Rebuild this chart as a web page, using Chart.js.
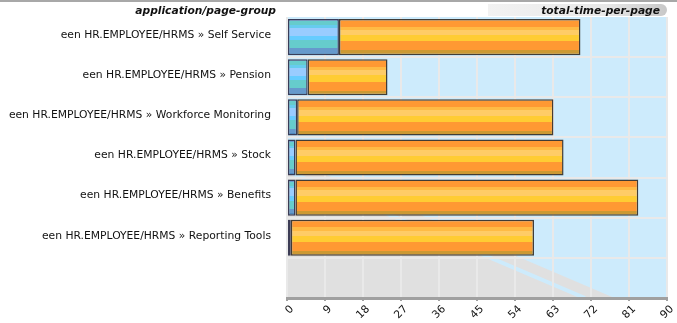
<!DOCTYPE html>
<html>
<head>
<meta charset="utf-8">
<script src="https://cdn.jsdelivr.net/npm/chart.js@4/dist/chart.umd.min.js"></script>
<style>
  html, body { margin: 0; padding: 0; background: #ffffff; }
  #wrap { position: relative; width: 677px; height: 323px; }
</style>
</head>
<body>
<div id="wrap"><canvas id="c" width="677" height="323"></canvas></div>
<script>
// ---- data ----
const categories = [
  'een HR.EMPLOYEE/HRMS » Self Service',
  'een HR.EMPLOYEE/HRMS » Pension',
  'een HR.EMPLOYEE/HRMS » Workforce Monitoring',
  'een HR.EMPLOYEE/HRMS » Stock',
  'een HR.EMPLOYEE/HRMS » Benefits',
  'een HR.EMPLOYEE/HRMS » Reporting Tools',
  ''
];
const blueValues   = [12.3, 4.9, 2.4, 2.0, 2.0, 0.9, null];
const orangeValues = [57.2, 18.9, 60.7, 63.5, 81.2, 57.6, null];
const xTicks = [0, 9, 18, 27, 36, 45, 54, 63, 72, 81, 90];
const yTitle = 'application/page-group';
const xTitle = 'total-time-per-page';

// ---- styles ----
const FONT = 'DejaVu Sans';
const BAR_PCT = 0.9;
const blueStops = [
  [0.00, '#6699cc'], [0.06, '#66cccc'], [0.17, '#66ccee'], [0.24, '#99ccff'],
  [0.46, '#66ccff'], [0.58, '#66cccc'], [0.81, '#6699cc'], [0.93, '#4d88bb']
];
const orangeStops = [
  [0.00, '#ff9933'], [0.21, '#ffbb44'], [0.30, '#ffcc66'], [0.45, '#ffcc33'],
  [0.62, '#ff9933'], [0.87, '#cc9933']
];

function stripeFill(stops) {
  return function (ctx) {
    const chart = ctx.chart;
    const ys = chart.scales && chart.scales.y;
    if (!ys || ctx.type !== 'data') return stops[0][1];
    const center = ys.getPixelForValue(ctx.dataIndex);
    const catH = ys.height / categories.length;
    const h = catH * BAR_PCT;
    if (!isFinite(center) || !isFinite(h) || h <= 0) return stops[0][1];
    const top = center - h / 2, bot = center + h / 2;
    const g = chart.ctx.createLinearGradient(0, top, 0, bot);
    for (let i = 0; i < stops.length; i++) {
      const start = stops[i][0];
      const end = i + 1 < stops.length ? stops[i + 1][0] : 1;
      g.addColorStop(start, stops[i][1]);
      g.addColorStop(Math.max(start, end - 0.0001), stops[i][1]);
    }
    return g;
  };
}

const backgroundPlugin = {
  id: 'bgPlot',
  beforeDraw(chart) {
    const { ctx, chartArea: a } = chart;
    const w = a.right - a.left, h = a.bottom - a.top;
    ctx.save();
    ctx.fillStyle = '#cdebfc';
    ctx.fillRect(a.left, a.top, w, h);
    ctx.beginPath();
    ctx.rect(a.left, a.top, w, h);
    ctx.clip();
    ctx.fillStyle = '#e0e0e0';
    ctx.beginPath();
    ctx.moveTo(a.left, a.top + h * 0.502);
    ctx.lineTo(a.left + w * 0.862, a.bottom);
    ctx.lineTo(a.left, a.bottom);
    ctx.closePath();
    ctx.fill();
    ctx.strokeStyle = '#cdebfc';
    ctx.lineWidth = 4;
    ctx.beginPath();
    ctx.moveTo(a.left - 10, a.top + h * 0.548 - 4.3);
    ctx.lineTo(a.left + w * 0.784, a.bottom);
    ctx.stroke();
    ctx.restore();
  }
};

const headerPlugin = {
  id: 'headers',
  afterDraw(chart) {
    const { ctx, chartArea: a, width } = chart;
    ctx.save();
    // top border line
    ctx.fillStyle = '#a8a8a8';
    ctx.fillRect(0, 0, width, 2);
    // pill behind x title
    const px0 = 488, px1 = a.right, py0 = 4, py1 = 16;
    const g = ctx.createLinearGradient(px0, 0, px1, 0);
    g.addColorStop(0, '#f2f2f2');
    g.addColorStop(0.65, '#e8e8e8');
    g.addColorStop(1, '#c8c8c8');
    ctx.fillStyle = g;
    const r = (py1 - py0) / 2;
    ctx.beginPath();
    ctx.moveTo(px0, py0);
    ctx.lineTo(px1 - r, py0);
    ctx.arc(px1 - r, py0 + r, r, -Math.PI / 2, Math.PI / 2);
    ctx.lineTo(px0, py1);
    ctx.closePath();
    ctx.fill();
    ctx.fillStyle = '#111';
    ctx.font = 'italic bold 10.7px "' + FONT + '"';
    ctx.textBaseline = 'middle';
    ctx.textAlign = 'right';
    ctx.fillText(xTitle, px1 - 7, 11.5);
    ctx.fillText(yTitle, a.left - 11, 11.5);
    ctx.restore();
  }
};

new Chart(document.getElementById('c'), {
  type: 'bar',
  data: {
    labels: categories,
    datasets: [
      {
        label: 'blue',
        data: blueValues,
        backgroundColor: stripeFill(blueStops),
        borderColor: 'rgba(30,30,60,0.85)',
        borderWidth: 1.5,
        borderSkipped: false,
        barPercentage: BAR_PCT,
        categoryPercentage: 1
      },
      {
        label: 'orange',
        data: orangeValues,
        backgroundColor: stripeFill(orangeStops),
        borderColor: 'rgba(40,30,20,0.85)',
        borderWidth: 1.5,
        borderSkipped: false,
        barPercentage: BAR_PCT,
        categoryPercentage: 1
      }
    ]
  },
  options: {
    indexAxis: 'y',
    responsive: false,
    animation: false,
    devicePixelRatio: 1,
    layout: { padding: { top: 17, right: 10, left: 0, bottom: 0 } },
    plugins: {
      legend: { display: false },
      tooltip: { enabled: false },
      title: { display: false }
    },
    scales: {
      x: {
        type: 'linear',
        stacked: true,
        min: xTicks[0],
        max: xTicks[xTicks.length - 1],
        afterBuildTicks(scale) { scale.ticks = xTicks.map(v => ({ value: v })); },
        afterFit(scale) { scale.height = 25; scale.paddingLeft = 0; scale.paddingRight = 0; },
        ticks: {
          minRotation: 45,
          maxRotation: 45,
          autoSkip: false,
          labelOffset: 5,
          padding: 2,
          color: '#111',
          font: { family: FONT, size: 10.7 }
        },
        grid: {
          color: '#e9e9e9',
          lineWidth: 2,
          tickLength: 3,
          tickColor: '#a0a0a0',
          tickWidth: 2
        },
        border: { display: true, color: '#a0a0a0', width: 3 }
      },
      y: {
        type: 'category',
        stacked: true,
        afterFit(scale) { scale.width = 287; scale.paddingTop = 0; scale.paddingBottom = 0; },
        ticks: {
          padding: 16,
          labelOffset: -2,
          color: '#111',
          font: { family: FONT, size: 10.75 }
        },
        grid: {
          offset: true,
          drawTicks: false,
          lineWidth: 2,
          color: (c) => (c.index === 0 ? 'rgba(0,0,0,0)' : '#e9e9e9')
        },
        border: { display: false }
      }
    }
  },
  plugins: [backgroundPlugin, headerPlugin]
});
</script>
</body>
</html>
